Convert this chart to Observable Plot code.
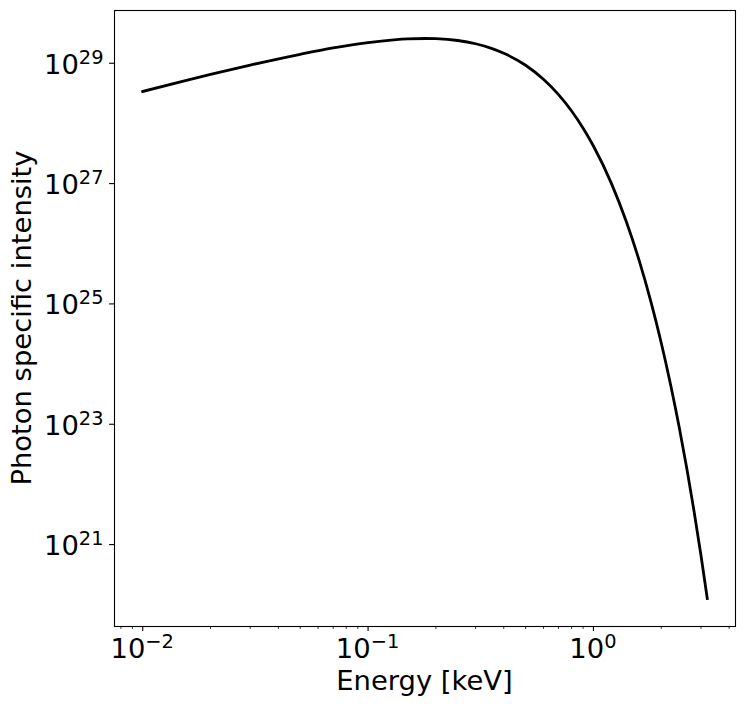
<!DOCTYPE html>
<html>
<head>
<meta charset="utf-8">
<script src="https://cdn.jsdelivr.net/npm/d3@7"></script>
<script src="https://cdn.jsdelivr.net/npm/@observablehq/plot@0.6"></script>
<style>
  html, body { margin: 0; padding: 0; background: #fff; }
  svg { display: block; }
</style>
</head>
<body>
<div id="chart"></div>
<script>
// Values (energy in keV, photon specific intensity)
const energy = [0.01, 0.015, 0.02, 0.03, 0.05, 0.07, 0.1, 0.13, 0.15, 0.18, 0.2, 0.25, 0.3, 0.35, 0.4, 0.5, 0.6, 0.7, 0.8, 0.9, 1.0, 1.2, 1.4, 1.6, 1.8, 2.0, 2.2, 2.4, 2.6, 2.8, 3.0, 3.2];
const intensity = [3.40e28, 4.99e28, 6.51e28, 9.32e28, 1.41e29, 1.80e29, 2.21e29, 2.45e29, 2.54e29, 2.58e29, 2.56e29, 2.39e29, 2.11e29, 1.79e29, 1.47e29, 9.26e28, 5.42e28, 3.01e28, 1.61e28, 8.34e27, 4.22e27, 1.02e27, 2.32e26, 5.09e25, 1.08e25, 2.24e24, 4.53e23, 9.05e22, 1.78e22, 3.46e21, 6.67e20, 1.27e20];

const xTicks = [0.01, 0.1, 1];
const xTickExponents = ["\u22122", "\u22121", "0"];
const xMinorTicks = [0.008, 0.009, 0.02, 0.03, 0.04, 0.05, 0.06, 0.07, 0.08, 0.09, 0.2, 0.3, 0.4, 0.5, 0.6, 0.7, 0.8, 0.9, 2, 3, 4];
const yTicks = [1e21, 1e23, 1e25, 1e27, 1e29];
const yTickExponents = ["21", "23", "25", "27", "29"];
const xLabel = "Energy [keV]";
const yLabel = "Photon specific intensity";

const data = energy.map((E, i) => ({E, I: intensity[i]}));

// matplotlib-like 5% margins in log space
function padLog(ext, f = 0.05) {
  const a = Math.log10(ext[0]), b = Math.log10(ext[1]);
  const m = (b - a) * f;
  return [10 ** (a - m), 10 ** (b + m)];
}
const xDomain = padLog(d3.extent(energy));
const yDomain = padLog(d3.extent(intensity));

const FONT = "DejaVu Sans";

const plot = Plot.plot({
  width: 744,
  height: 709,
  marginLeft: 114,
  marginRight: 9,
  marginTop: 10,
  marginBottom: 83,
  style: {background: "white", fontFamily: FONT, overflow: "visible"},
  x: {type: "log", domain: xDomain, label: null},
  y: {type: "log", domain: yDomain, label: null},
  marks: [
    Plot.axisX({ticks: xMinorTicks, tickSize: 2.8, strokeWidth: 0.85, stroke: "black", fill: "none", label: null}),
    Plot.axisX({ticks: xTicks, tickSize: 4.9, strokeWidth: 1.1, stroke: "black", fill: "none", label: null}),
    Plot.axisY({ticks: yTicks, tickSize: 4.9, strokeWidth: 1.1, stroke: "black", fill: "none", label: null}),
    Plot.line(data, {x: "E", y: "I", stroke: "black", strokeWidth: 2.8, curve: "monotone-x", strokeLinecap: "square"}),
    Plot.frame({stroke: "black", strokeWidth: 1.1})
  ]
});

document.getElementById("chart").appendChild(plot);

const sx = plot.scale("x"), sy = plot.scale("y");
const svg = d3.select(plot);
const g = svg.append("g").attr("font-family", FONT).attr("fill", "black");

const MAIN = 27.4, SUP = 19.4;

xTicks.forEach((v, i) => {
  const t = g.append("text")
    .attr("x", sx.apply(v))
    .attr("y", 658.3)
    .attr("text-anchor", "middle")
    .attr("font-size", MAIN);
  t.append("tspan").text("10");
  t.append("tspan").attr("font-size", SUP).attr("dy", -10).text(xTickExponents[i]);
});

yTicks.forEach((v, i) => {
  const t = g.append("text")
    .attr("x", 103.5)
    .attr("y", sy.apply(v) + 11)
    .attr("text-anchor", "end")
    .attr("font-size", MAIN);
  t.append("tspan").text("10");
  t.append("tspan").attr("font-size", SUP).attr("dy", -10).text(yTickExponents[i]);
});

g.append("text")
  .attr("x", (114 + 735) / 2)
  .attr("y", 690)
  .attr("text-anchor", "middle")
  .attr("font-size", MAIN)
  .text(xLabel);

g.append("text")
  .attr("transform", `translate(31,${(10 + 626) / 2}) rotate(-90)`)
  .attr("text-anchor", "middle")
  .attr("font-size", MAIN)
  .text(yLabel);
</script>
</body>
</html>
